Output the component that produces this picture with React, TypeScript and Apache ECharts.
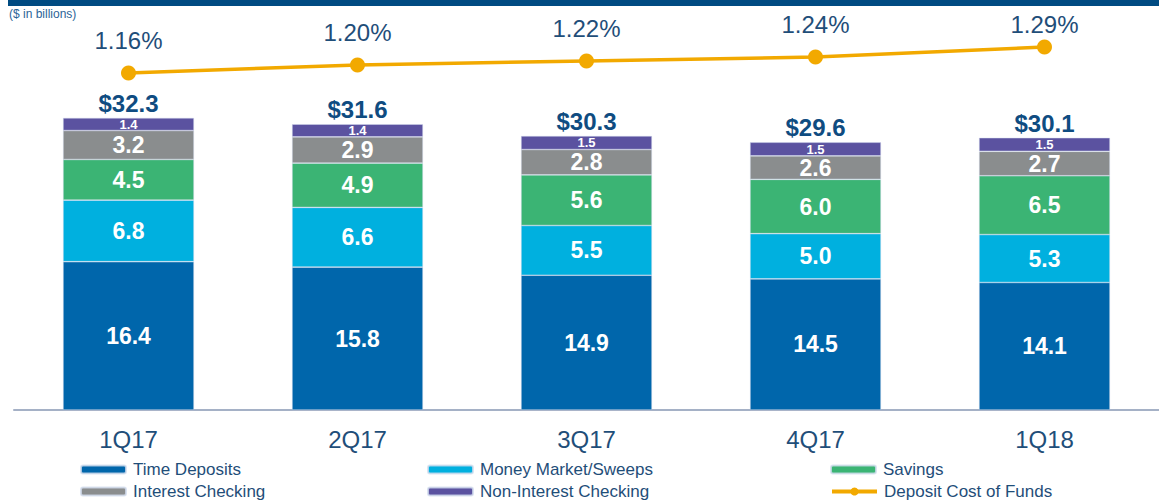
import React, { useEffect, useRef } from "react";
import * as echarts from "echarts";

const categories = ["1Q17", "2Q17", "3Q17", "4Q17", "1Q18"];
const timeDeposits = [16.4, 15.8, 14.9, 14.5, 14.1];
const moneyMarket = [6.8, 6.6, 5.5, 5.0, 5.3];
const savings = [4.5, 4.9, 5.6, 6.0, 6.5];
const interestChecking = [3.2, 2.9, 2.8, 2.6, 2.7];
const nonInterestChecking = [1.4, 1.4, 1.5, 1.5, 1.5];
const depositCost = [1.16, 1.2, 1.22, 1.24, 1.29];

const FONT = "'Liberation Sans', Arial, sans-serif";
const TEXT_BLUE = "#1F4E79";

export default function App() {
  const ref = useRef<HTMLDivElement>(null);
  useEffect(() => {
    if (!ref.current) return;
    const chart = echarts.init(ref.current, undefined, { renderer: "svg" });
    const totals = categories.map(
      (_, i) =>
        Math.round(
          (timeDeposits[i] + moneyMarket[i] + savings[i] + interestChecking[i] + nonInterestChecking[i]) * 10
        ) / 10
    );
    const barLabel = (size: number) => ({
      show: true,
      position: "inside",
      color: "#fff",
      fontWeight: "bold",
      fontSize: size,
      fontFamily: FONT,
      formatter: (p: any) => Number(p.value).toFixed(1),
    });
    const bar = (name: string, data: number[], color: string, size = 23) => ({
      name,
      type: "bar",
      stack: "dep",
      barWidth: 131,
      data,
      itemStyle: { color, borderColor: "rgba(210,220,238,0.8)", borderWidth: 0.6 },
      label: barLabel(size),
    });
    const legendCommon = {
      orient: "vertical",
      top: 461,
      height: 42,
      itemWidth: 45,
      itemHeight: 8,
      itemGap: 5,
      padding: 0,
      textStyle: { color: TEXT_BLUE, fontSize: 17, fontFamily: FONT, padding: [0, 0, 0, 2] },
      selectedMode: false,
    };
    const costData = depositCost.map((v, i) =>
      i === depositCost.length - 1 ? { value: v, label: { distance: 3 } } : v
    );
    chart.setOption({
      animation: false,
      textStyle: { fontFamily: FONT },
      graphic: [
        { type: "rect", shape: { x: 8, y: 0, width: 1151, height: 6 }, style: { fill: "#004B82" } },
        {
          type: "text",
          x: 9,
          y: 8,
          style: { text: "($ in billions)", fill: "#2C6497", fontSize: 12, fontFamily: FONT },
        },
      ],
      legend: [
        { ...legendCommon, left: 80, data: ["Time Deposits", "Interest Checking"] },
        { ...legendCommon, left: 427, data: ["Money Market/Sweeps", "Non-Interest Checking"] },
        { ...legendCommon, left: 830, data: ["Savings"] },
        {
          ...legendCommon,
          left: 830,
          top: 483,
          height: 20,
          itemHeight: 10,
          data: [{ name: "Deposit Cost of Funds", lineStyle: { width: 4 } }],
        },
      ],
      grid: { left: 14, right: -9, top: 3, bottom: 93 },
      xAxis: {
        type: "category",
        data: categories,
        axisLine: { lineStyle: { color: "#A5B1C6", width: 2 } },
        axisTick: { show: false },
        axisLabel: { color: TEXT_BLUE, fontSize: 24, fontFamily: FONT, margin: 17 },
      },
      yAxis: [
        { type: "value", min: 0, max: 45, show: false },
        { type: "value", min: -0.525, max: 1.51, show: false },
      ],
      series: [
        bar("Time Deposits", timeDeposits, "#0066AB"),
        bar("Money Market/Sweeps", moneyMarket, "#00B0DF"),
        bar("Savings", savings, "#3BB474"),
        bar("Interest Checking", interestChecking, "#8A8D8E"),
        bar("Non-Interest Checking", nonInterestChecking, "#5B52A0", 13),
        {
          name: "Totals",
          type: "line",
          data: totals,
          symbol: "circle",
          symbolSize: 1,
          showSymbol: true,
          silent: true,
          lineStyle: { opacity: 0 },
          itemStyle: { color: "rgba(0,0,0,0)" },
          label: {
            show: true,
            position: "top",
            distance: 2,
            color: "#0F4C81",
            fontWeight: "bold",
            fontSize: 24,
            fontFamily: FONT,
            formatter: (p: any) => "$" + Number(p.value).toFixed(1),
          },
          z: 5,
        },
        {
          name: "Deposit Cost of Funds",
          type: "line",
          yAxisIndex: 1,
          data: costData,
          symbol: "circle",
          symbolSize: 15,
          lineStyle: { color: "#F2A900", width: 3.5 },
          itemStyle: { color: "#F2A900" },
          label: {
            show: true,
            position: "top",
            distance: 13,
            color: TEXT_BLUE,
            fontSize: 24,
            fontFamily: FONT,
            formatter: (p: any) => Number(p.value).toFixed(2) + "%",
          },
          z: 6,
        },
      ],
    });
    return () => chart.dispose();
  }, []);
  return (
    <div
      ref={ref}
      style={{ position: "absolute", left: 0, top: 0, width: 1159, height: 503, background: "#fff" }}
    />
  );
}
